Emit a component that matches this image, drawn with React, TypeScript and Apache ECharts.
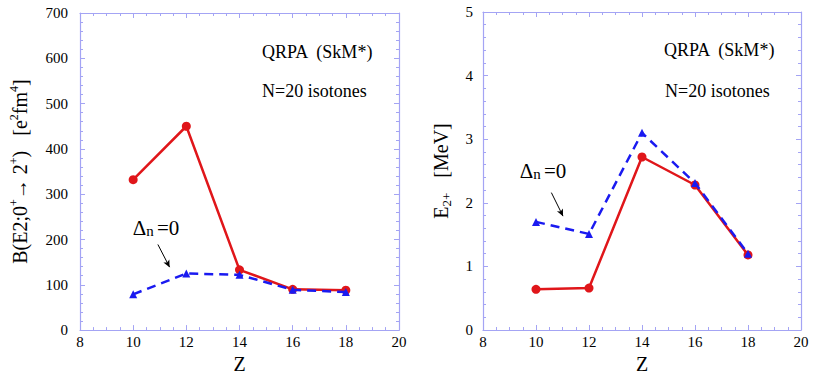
import React, { useEffect, useRef } from "react";
import * as echarts from "echarts";

const zValues = [10, 12, 14, 16, 18];
const be2Qrpa = [332, 450, 133, 90, 88];
const be2NoPair = [79, 125, 122, 89, 84];
const e2Qrpa = [0.64, 0.66, 2.72, 2.28, 1.18];
const e2NoPair = [1.7, 1.51, 3.1, 2.31, 1.2];
const titleLine1 = "QRPA  (SkM*)";
const titleLine2 = "N=20 isotones";

const FONT = "'Liberation Serif', 'Times New Roman', serif";
const FRAME = "#a4a4f4";
const RED = "#e0161a";
const BLUE = "#1a1af0";

const pair = (xs: number[], ys: number[]) => xs.map((x, i) => [x, ys[i]]);

export default function App() {
  const ref = useRef<HTMLDivElement>(null);
  useEffect(() => {
    if (!ref.current) return;
    const chart = echarts.init(ref.current, undefined, { renderer: "svg" });

    const tickCommon = {
      axisLine: { show: true, onZero: false, lineStyle: { color: FRAME, width: 1.2 } },
      axisTick: { show: true, inside: true, length: 5, lineStyle: { color: FRAME } },
      minorTick: { show: true, splitNumber: 4, length: 3, lineStyle: { color: FRAME } },
      splitLine: { show: false },
    };
    const xAx = (grid: number) => [
      {
        type: "value", gridIndex: grid, min: 8, max: 20, interval: 2, position: "bottom",
        ...tickCommon,
        axisLabel: { fontFamily: FONT, fontSize: 15, color: "#000", margin: 4 },
        name: "Z", nameLocation: "middle", nameGap: 23,
        nameTextStyle: { fontFamily: FONT, fontSize: 20, color: "#000" },
      },
      {
        type: "value", gridIndex: grid, min: 8, max: 20, interval: 2, position: "top",
        ...tickCommon, axisLabel: { show: false },
      },
    ];
    const yAx = (grid: number, max: number, interval: number, split: number, name: string, gap: number, margin: number) => [
      {
        type: "value", gridIndex: grid, min: 0, max, interval, position: "left",
        ...tickCommon,
        minorTick: { ...tickCommon.minorTick, splitNumber: split },
        axisLabel: { fontFamily: FONT, fontSize: 15, color: "#000", margin },
        name, nameLocation: "middle", nameGap: gap, nameRotate: 90,
        nameTextStyle: {
          fontFamily: FONT, fontSize: 20, color: "#000",
          rich: {
            a: { fontFamily: FONT, fontSize: 20, color: "#000", lineHeight: 24 },
            s: { fontFamily: FONT, fontSize: 12, color: "#000", verticalAlign: "top", lineHeight: 24 },
            b: { fontFamily: FONT, fontSize: 13, color: "#000", verticalAlign: "bottom", lineHeight: 24 },
          },
        },
      },
      {
        type: "value", gridIndex: grid, min: 0, max, interval, position: "right",
        ...tickCommon,
        minorTick: { ...tickCommon.minorTick, splitNumber: split },
        axisLabel: { show: false },
      },
    ];

    const redSeries = (xi: number, yi: number, ys: number[]) => ({
      type: "line", xAxisIndex: xi, yAxisIndex: yi, data: pair(zValues, ys),
      lineStyle: { color: RED, width: 2.5 }, itemStyle: { color: RED },
      symbol: "circle", symbolSize: 9, z: 3,
    });
    const blueSeries = (xi: number, yi: number, ys: number[], arrow: number[][]) => ({
      type: "line", xAxisIndex: xi, yAxisIndex: yi, data: pair(zValues, ys),
      lineStyle: { color: BLUE, width: 2.5, type: [9, 6] }, itemStyle: { color: BLUE },
      symbol: "triangle", symbolSize: 8, z: 4,
      markLine: {
        silent: true, symbol: ["none", "arrow"], symbolSize: [5, 7],
        label: { show: false },
        lineStyle: { color: "#000", width: 1, type: "solid" },
        data: [[{ coord: arrow[0] }, { coord: arrow[1] }]],
      },
    });

    const deltaText = (x: number, y: number) => ({
      type: "text", x, y,
      style: {
        text: "{a|Δ}{b|n} {a|=0}",
        align: "center", verticalAlign: "middle",
        rich: {
          a: { fontFamily: FONT, fontSize: 21, fill: "#000" },
          b: { fontFamily: FONT, fontSize: 15, fill: "#000", verticalAlign: "bottom" },
        },
      },
    });
    const label = (x: number, y: number, t: string) => ({
      type: "text", x, y,
      style: { text: t, fontFamily: FONT, fontSize: 18, fill: "#000", align: "left", verticalAlign: "middle" },
    });

    chart.setOption({
      animation: false,
      backgroundColor: "#fff",
      textStyle: { fontFamily: FONT },
      grid: [
        { left: 80, top: 13, width: 319, height: 318 },
        { left: 483, top: 12, width: 318, height: 318 },
      ],
      xAxis: [...xAx(0), ...xAx(1)],
      yAxis: [
        ...yAx(0, 700, 100, 5, "{a|B(E2;0}{s|+}{a|→ 2}{s|+}{a|)   [e}{s|2}{a|fm}{s|4}{a|]}", 48, 12),
        ...yAx(1, 5, 1, 5, "{a|E}{b|2+}{a|   [MeV]}", 30, 10),
      ],
      series: [
        blueSeries(0, 0, be2NoPair, [[10.93, 189], [11.37, 139]]),
        redSeries(0, 0, be2Qrpa),
        blueSeries(2, 2, e2NoPair, [[10.58, 2.16], [11.02, 1.79]]),
        redSeries(2, 2, e2Qrpa),
      ],
      graphic: [
        label(262, 52, titleLine1),
        label(262, 91, titleLine2),
        label(664, 50, titleLine1),
        label(665, 91, titleLine2),
        deltaText(156, 228),
        deltaText(543, 171),
      ],
    });
    return () => chart.dispose();
  }, []);
  return (
    <div
      ref={ref}
      style={{ position: "fixed", left: 0, top: 0, width: 831, height: 379 }}
    />
  );
}
